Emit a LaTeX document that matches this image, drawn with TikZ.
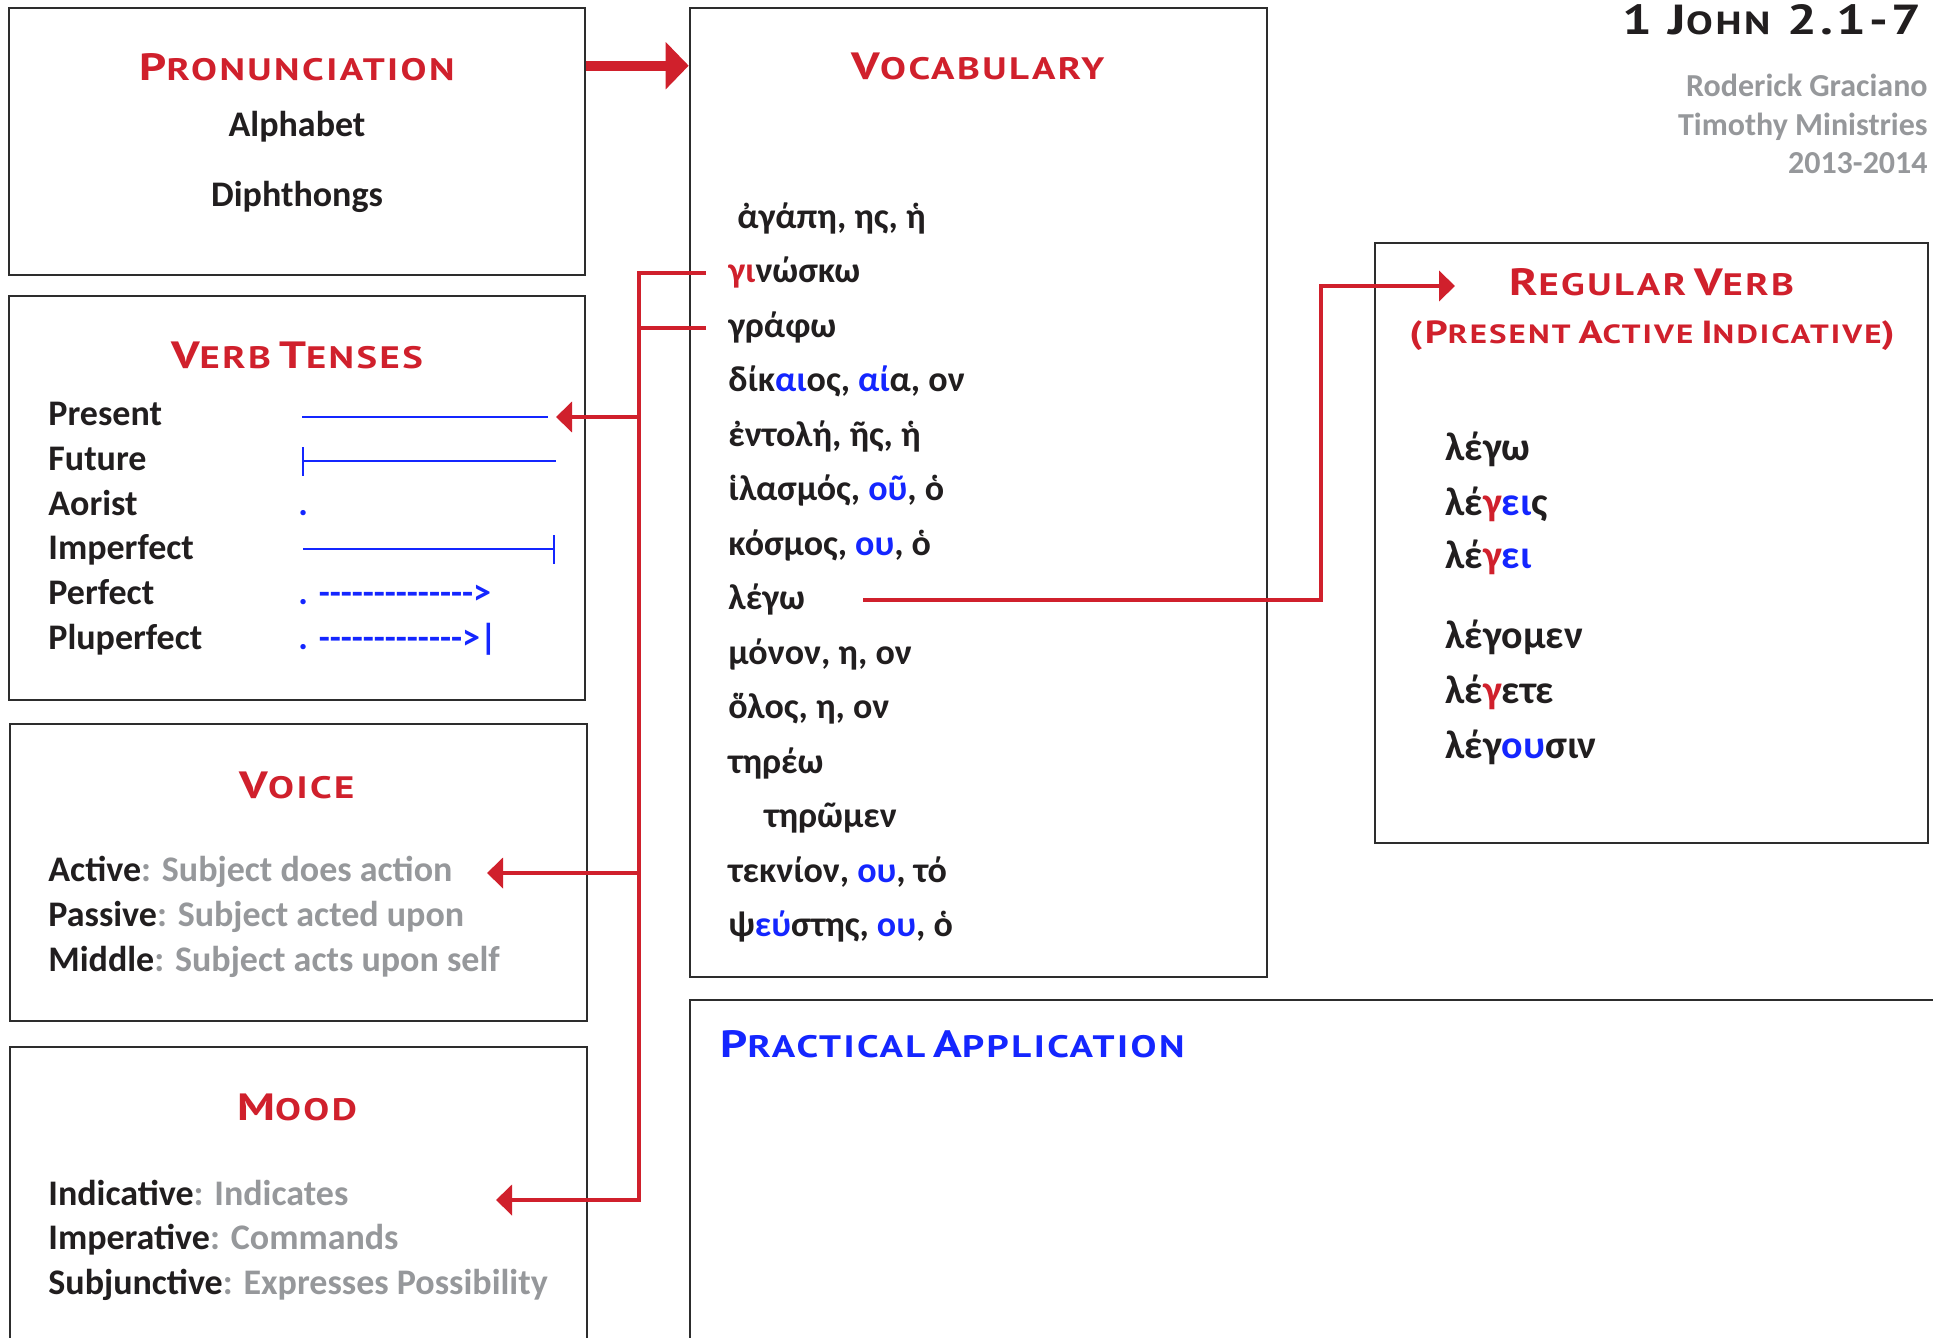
\documentclass[tikz,border=0pt]{standalone}
\usepackage{fontspec}
\setmainfont[Ligatures=TeXOff]{Carlito}
\newfontfamily\headfont[LetterSpace=8,FakeStretch=1.25]{PT Sans}
\usetikzlibrary{arrows.meta,fit}

\definecolor{hdred}{RGB}{208,32,44}
\definecolor{hlblue}{RGB}{20,38,255}
\definecolor{softgray}{RGB}{150,152,155}
\definecolor{ink}{RGB}{33,30,31}
\definecolor{framegray}{RGB}{45,45,45}

% small-caps style headings: large initial, smaller capitals after it
\newcommand\hsc[2]{{\fontsize{19}{22}\selectfont #1}{\fontsize{15.5}{18}\selectfont #2}}
\newcommand\hscs[2]{{\fontsize{16}{19}\selectfont #1}{\fontsize{13.2}{16}\selectfont #2}}
\newcommand\rd[1]{\textcolor{hdred}{#1}}
\newcommand\bl[1]{\textcolor{hlblue}{#1}}
\newcommand\gr[1]{\textcolor{softgray}{#1}}

\begin{document}
\begin{tikzpicture}[x=0.5pt,y=-0.5pt,
  panel/.style={draw=framegray,line width=1.3pt,inner sep=0pt},
  head/.style={font=\headfont\bfseries,text=hdred,inner sep=0pt,anchor=base},
  body/.style={font=\fontsize{18}{20}\selectfont\bfseries,text=ink,inner sep=0pt,anchor=base west},
  greek/.style={body,text height=13pt,text depth=3.5pt},
  verbform/.style={body,font=\fontsize{20}{22}\selectfont\bfseries},
  author/.style={font=\fontsize{16}{18}\selectfont\bfseries,text=softgray,inner sep=0pt,anchor=base east},
  tense/.style={draw=hlblue,line width=1.1pt},
  conn/.style={draw=hdred,line width=2pt},
  redtip/.style={-{Triangle[length=8pt,width=15pt]}},
]
\useasboundingbox (0,0) rectangle (1933,1338);
\fill[white] (0,0) rectangle (1933,1338);
\clip (0,0) rectangle (1933,1338);

% ---- panels ----
\node[panel,fit={(9,8) (585,275)}] (pron) {};
\node[panel,fit={(690,8) (1267,977)}] (vocab) {};
\node[panel,fit={(9,296) (585,700)}] (tenses) {};
\node[panel,fit={(10,724) (587,1021)}] (voice) {};
\node[panel,fit={(10,1047) (587,1420)}] (mood) {};
\node[panel,fit={(1375,243) (1928,843)}] (regverb) {};
\node[panel,fit={(690,1000) (2000,1420)}] (practical) {};

% ---- title block ----
\node[font=\headfont\bfseries,text=ink,inner sep=0pt,anchor=base east] (title) at (1922,35)
  {{\fontsize{21}{24}\selectfont 1 J}{\fontsize{16}{18}\selectfont OHN}{\fontsize{21}{24}\selectfont{} 2.1-7}};
\node[author] (auth1) at (1928,97) {Roderick Graciano};
\node[author] (auth2) at (1928,135) {Timothy Ministries};
\node[author] (auth3) at (1928,173) {2013-2014};

% ---- pronunciation ----
\node[head] (pronhead) at (297,81) {\hsc{P}{RONUNCIATION}};
\node[body,anchor=base] (alpha) at (297,137) {Alphabet};
\node[body,anchor=base] (diph) at (297,206) {Diphthongs};

% ---- vocabulary ----
\node[head] (vocabhead) at (978,80) {\hsc{V}{OCABULARY}};
\node[greek] (agape)   at (737,228)   {ἀγάπη, ης, ἡ};
\node[greek] (ginosko) at (728,282.5) {\rd{γι}νώσκω};
\node[greek] (grapho)  at (728,337)   {γράφω};
\node[greek] (dikaios) at (728,391.5) {δίκ\bl{αι}ος, \bl{αί}α, ον};
\node[greek] (entole)  at (728,446)   {ἐντολή, ῆς, ἡ};
\node[greek] (hilasmos) at (728,500.5) {ἱλασμός, \bl{οῦ}, ὁ};
\node[greek] (kosmos)  at (728,555)   {κόσμος, \bl{ου}, ὁ};
\node[greek] (lego)    at (728,609.5) {λέγω};
\node[greek] (monon)   at (728,664)   {μόνον, η, ον};
\node[greek] (holos)   at (728,718.5) {ὅλος, η, ον};
\node[greek] (tereo)   at (728,773)   {τηρέω};
\node[greek] (teromen) at (764,827.5) {τηρῶμεν};
\node[greek] (teknion) at (728,882)   {τεκνίον, \bl{ου}, τό};
\node[greek] (pseustes) at (728,936.5) {ψ\bl{εύ}στης, \bl{ου}, ὁ};

% ---- verb tenses ----
\node[head] (tenseshead) at (297,368) {\hsc{V}{ERB} \hsc{T}{ENSES}};
\node[body] (present)    at (48,425) {Present};
\node[body] (future)     at (48,470) {Future};
\node[body] (aorist)     at (48,515) {Aorist};
\node[body] (imperfect)  at (48,559) {Imperfect};
\node[body] (perfect)    at (48,604) {Perfect};
\node[body] (pluperfect) at (48,649) {Pluperfect};
\draw[tense] (302,417) -- (548,417) coordinate (presEnd);
\draw[tense] (303,447) -- (303,476);
\draw[tense] (303,461) -- (556,461);
\node[body,text=hlblue] (aoristdot) at (298,515) {.};
\draw[tense] (303,549) -- (554,549);
\draw[tense] (554,535) -- (554,564);
\node[body,text=hlblue] (perfmark) at (298,604) {. -------------->};
\node[body,text=hlblue] (plupmark) at (298,649) {. ------------->|};

% ---- voice ----
\node[head] (voicehead) at (297,798) {\hsc{V}{OICE}};
\node[body] (active)  at (48,881) {Active\gr{: Subject does action}};
\node[body] (passive) at (48,926) {Passive\gr{: Subject acted upon}};
\node[body] (middle)  at (48,971) {Middle\gr{: Subject acts upon self}};

% ---- mood ----
\node[head] (moodhead) at (297,1120) {\hsc{M}{OOD}};
\node[body] (indic)  at (48,1205) {Indicative\gr{: Indicates}};
\node[body] (imper)  at (48,1249) {Imperative\gr{: Commands}};
\node[body] (subj)   at (48,1294) {Subjunctive\gr{: Expresses Possibility}};

% ---- regular verb ----
\node[head] (reghead) at (1652,295) {\hsc{R}{EGULAR} \hsc{V}{ERB}};
\node[head] (regsub)  at (1652,343) {\hscs{(P}{RESENT} \hscs{A}{CTIVE} \hscs{I}{NDICATIVE}{\fontsize{16}{19}\selectfont )}};
\node[verbform] (f1) at (1445,460) {λέγω};
\node[verbform] (f2) at (1445,515) {λέ\rd{γ}\bl{ει}ς};
\node[verbform] (f3) at (1445,568) {λέ\rd{γ}\bl{ει}};
\node[verbform] (f4) at (1445,648) {λέγομεν};
\node[verbform] (f5) at (1445,703) {λέ\rd{γ}ετε};
\node[verbform] (f6) at (1445,758) {λέγ\bl{ου}σιν};

% ---- practical application ----
\node[head,text=hlblue,anchor=base west] (prachead) at (720,1057) {\hsc{P}{RACTICAL} \hsc{A}{PPLICATION}};

% ---- connectors ----
\draw[hdred,line width=5pt,-{Triangle[length=11.5pt,width=23pt]}]
  ([yshift=-29.5pt]pron.north east) -- ([yshift=-29.5pt]vocab.north west);

\coordinate (trunk)    at (639,0);
\coordinate (tensesIn) at (556,417);
\coordinate (voiceIn)  at (487,873);
\coordinate (moodIn)   at (496,1200);
\coordinate (regIn)    at (1455,286);

\draw[conn,redtip] ([xshift=-11pt]ginosko.west) -- (ginosko.west -| trunk)
  -- (moodIn -| trunk) -- (moodIn);
\draw[conn] ([xshift=-11pt]grapho.west) -- (grapho.west -| trunk);
\draw[conn,redtip] (tensesIn -| trunk) -- (tensesIn);
\draw[conn,redtip] (voiceIn -| trunk) -- (voiceIn);
\draw[conn,redtip] ([xshift=29pt]lego.east) -- ++(458,0) |- (regIn);
\end{tikzpicture}
\end{document}
